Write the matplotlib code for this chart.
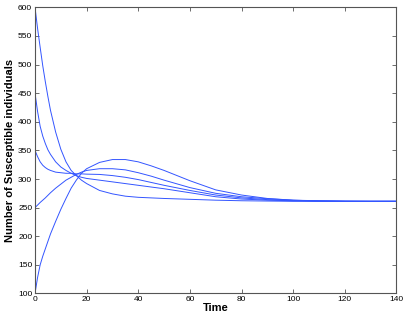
import matplotlib
matplotlib.use("Agg")
import matplotlib.pyplot as plt

# time points
t = [0, 1, 2, 3, 4, 5, 6, 8, 10, 12, 14, 16, 18, 20, 25, 30, 35, 40, 45, 50, 60, 70, 80, 90, 100, 110, 120, 130, 140]

# susceptible counts for the five starting values
s_600 = [600, 563, 530, 498, 470, 444, 420, 382, 352, 330, 315, 306, 298, 292, 280, 274, 270, 268, 267, 266, 264.5, 263, 262, 261.5, 261, 261, 261, 261, 261]
s_450 = [450, 418, 392, 375, 362, 351, 343, 330, 321, 315, 310, 306, 303, 301, 298, 295, 292, 289, 286, 283, 276, 269, 265, 263, 262, 261.5, 261, 261, 261]
s_350 = [350, 339, 330, 324, 320, 317, 315, 312, 311, 310, 310, 309, 309, 308.5, 308, 306, 303, 299, 294, 289, 280, 272, 267, 264, 262.5, 261.5, 261, 261, 261]
s_250 = [250, 254.5, 259, 263, 267, 271.5, 276, 284, 291, 298, 303, 308, 312, 315, 318, 318, 316, 311, 305, 298, 285, 275, 269, 265.5, 263, 262, 261.5, 261, 261]
s_100 = [100, 128, 150, 165, 178, 191, 204, 226, 247, 266, 284, 298, 310, 318, 329, 334, 334, 330, 323, 315, 297, 281, 272, 266, 263, 261.5, 261, 261, 261]

series = [s_600, s_450, s_350, s_250, s_100]


def main():
    plt.rcParams["font.family"] = ["Liberation Sans", "DejaVu Sans"]
    fig = plt.figure(figsize=(4.07, 3.2), dpi=100)
    ax = fig.add_axes([0.086, 0.083, 0.888, 0.894])

    for s in series:
        ax.plot(t, s, color="#3355ff", linewidth=0.7)

    ax.set_xlim(0, 140)
    ax.set_ylim(100, 600)
    ax.set_xticks(range(0, 141, 20))
    ax.set_yticks(range(100, 601, 50))
    ax.tick_params(direction="in", top=True, right=True, labelsize=6, length=3,
                   width=0.6, color="#555555", pad=2)
    for sp in ax.spines.values():
        sp.set_color("#555555")
        sp.set_linewidth(0.8)

    ax.set_xlabel("Time", fontsize=8, fontweight="bold", labelpad=0)
    ax.set_ylabel("Number of Susceptible individuals", fontsize=8, fontweight="bold", labelpad=2)

    fig.savefig("out.png", dpi=100)


if __name__ == "__main__":
    main()
